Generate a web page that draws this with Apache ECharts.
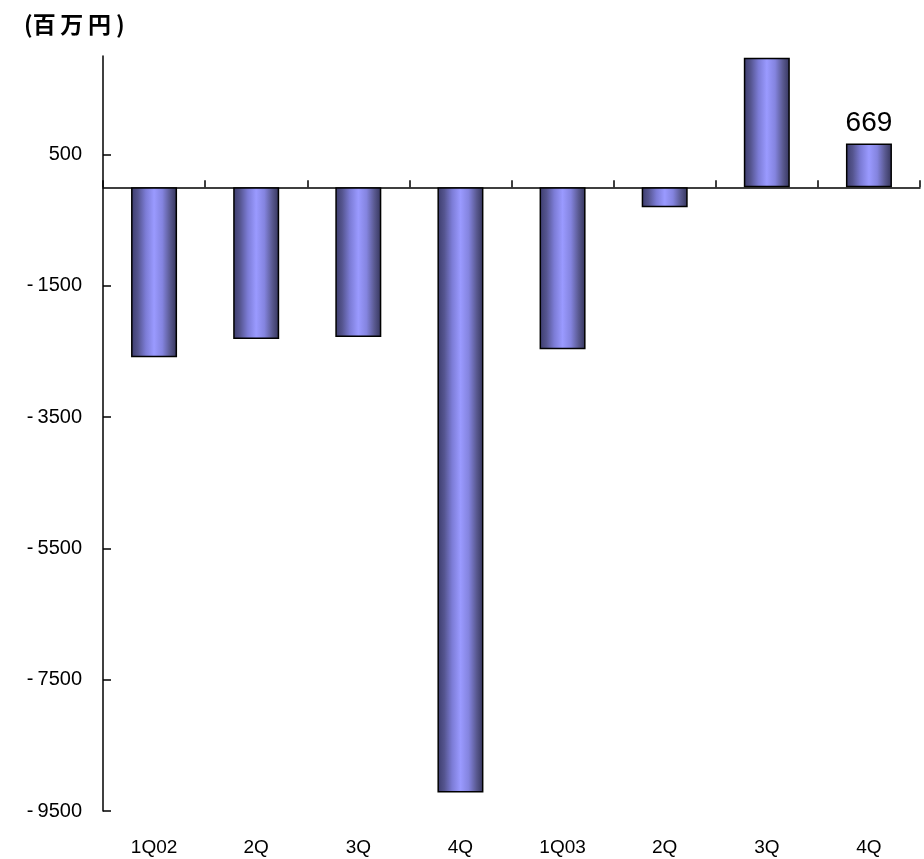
<!DOCTYPE html>
<html>
<head>
<meta charset="utf-8">
<script src="https://cdn.jsdelivr.net/npm/echarts@6/dist/echarts.min.js"></script>
<style>
html,body{margin:0;padding:0;background:#fff;}
#c{width:924px;height:859px;}
</style>
</head>
<body>
<div id="c"></div>
<script>
var categories = ['1Q02', '2Q', '3Q', '4Q', '1Q03', '2Q', '3Q', '4Q'];
var values = [-2590, -2310, -2280, -9220, -2465, -305, 1975, 669];
var yTicks = [-9500, -7500, -5500, -3500, -1500, 500];
var labeledIndex = 7;

var font = "'Liberation Sans', Arial, sans-serif";
var grad = {
  type: 'linear', x: 0, y: 0, x2: 1, y2: 0,
  colorStops: [
    {offset: 0, color: '#3c3c6c'},
    {offset: 0.15, color: '#55558f'},
    {offset: 0.32, color: '#7c7cd6'},
    {offset: 0.5, color: '#9a9aff'},
    {offset: 0.68, color: '#8484df'},
    {offset: 0.85, color: '#595990'},
    {offset: 1, color: '#34345a'}
  ]
};

var data = values.map(function (v, i) {
  var d = {value: v};
  if (i === labeledIndex) {
    d.label = {show: true, position: 'top', distance: 6, color: '#000',
      fontSize: 28, fontFamily: font};
  }
  return d;
});

var chart = echarts.init(document.getElementById('c'));
chart.setOption({
  animation: false,
  backgroundColor: '#fff',
  title: {
    text: '(百\u2009万\u2009円 )', left: 19, top: 8,
    textStyle: {fontSize: 23, fontWeight: 'bold', color: '#000',
      fontFamily: "'Noto Sans CJK JP', sans-serif"}
  },
  grid: {left: 103, right: 4, top: 56, bottom: 48, containLabel: false},
  xAxis: [{
    type: 'category', data: categories, position: 'bottom',
    axisLine: {show: false, onZero: false},
    axisTick: {show: false},
    axisLabel: {color: '#000', fontSize: 19, fontFamily: font, margin: 27}
  }, {
    type: 'category', data: categories, position: 'bottom',
    axisLine: {show: true, onZero: true, lineStyle: {color: '#000', width: 1.5}},
    axisTick: {show: true, inside: true, length: 7, lineStyle: {color: '#000', width: 1.5}},
    axisLabel: {show: false}
  }],
  yAxis: {
    type: 'value', min: -9500, max: 2000, interval: 2000,
    axisLine: {show: true, lineStyle: {color: '#000', width: 1.5}},
    axisTick: {show: true, inside: true, length: 8, customValues: yTicks,
      lineStyle: {color: '#000', width: 1.5}},
    splitLine: {show: false},
    axisLabel: {
      customValues: yTicks, color: '#000', fontSize: 20, fontFamily: font, margin: 21,
      formatter: function (v) { return v < 0 ? '-\u2009' + Math.abs(v) : String(v); }
    }
  },
  series: [{
    type: 'bar', xAxisIndex: 0, data: data, barWidth: 46,
    itemStyle: {color: grad, borderColor: '#000', borderWidth: 1.5}
  }]
});
</script>
</body>
</html>
